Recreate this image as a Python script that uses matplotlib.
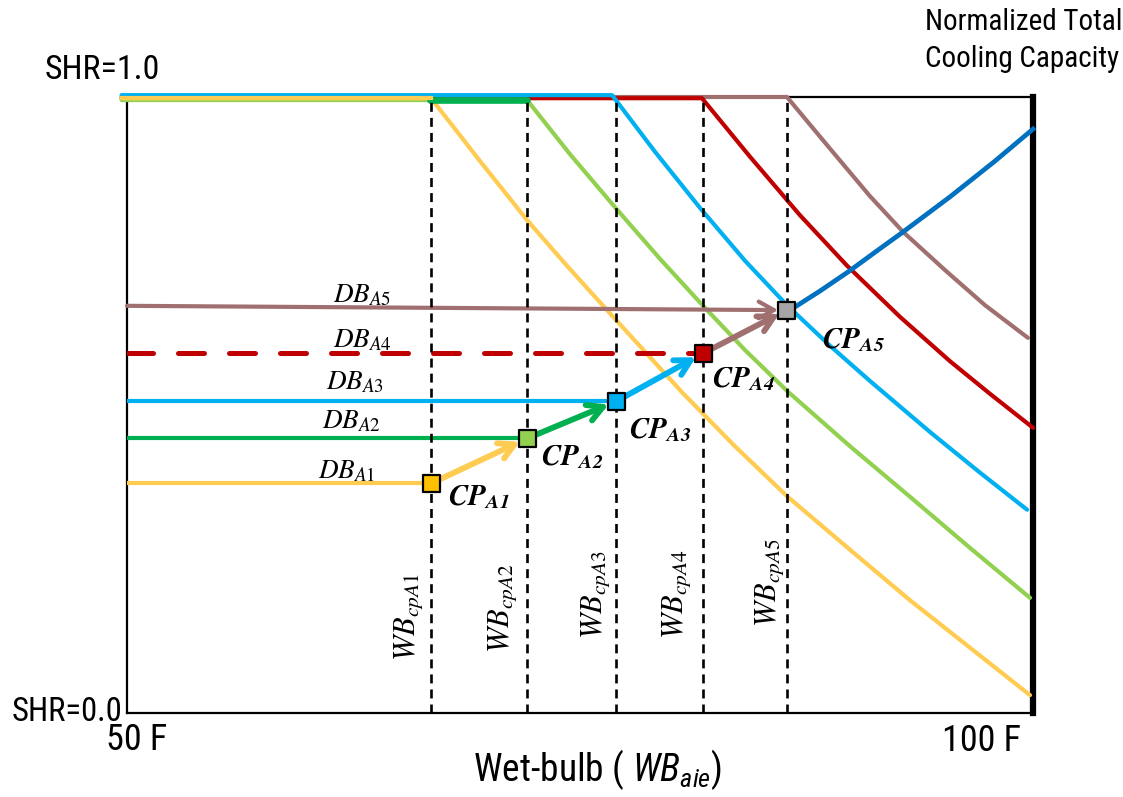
import matplotlib
matplotlib.use("Agg")
import matplotlib.pyplot as plt
import numpy as np

plt.rcParams['font.family'] = ['Roboto Condensed', 'Roboto']
plt.rcParams['mathtext.fontset'] = 'custom'
plt.rcParams['mathtext.rm'] = 'Roboto Condensed'
plt.rcParams['mathtext.it'] = 'Roboto Condensed:italic'

# wet-bulb of each operating point (F) and its capacity level (0..1)
cp_names = ["A1", "A2", "A3", "A4", "A5"]
wb_cp = [66.8, 72.1, 77.0, 81.8, 86.4]
cp_level = [0.373, 0.446, 0.506, 0.584, 0.654]
cp_fill = ["#FFC000", "#92D050", "#00B0F0", "#C00000", "#A6A6A6"]

# capacity curves for each entering dry-bulb, flat at SHR=1 up to the knee
curve_colors = ["#A07070", "#C00000", "#00B0F0", "#92D050", "#FFCB50"]
curve_x = [
    [49.7, 86.42, 88.80, 91.00, 92.83, 95.14, 97.35, 99.72],
    [49.7, 81.73, 84.38, 87.14, 89.74, 92.66, 95.42, 97.63, 100.0],
    [49.7, 76.77, 79.14, 81.62, 84.11, 86.42, 88.80, 91.00, 94.32, 97.08, 99.67],
    [49.7, 72.08, 74.45, 76.93, 79.42, 81.79, 84.11, 86.42, 89.90, 93.21, 96.52, 99.83],
    [49.7, 66.78, 69.48, 72.08, 74.28, 76.49, 80.68, 83.55, 86.42, 89.90, 93.21, 96.52, 99.83],
]
curve_y = [
    [1.0, 1.0, 0.916, 0.839, 0.781, 0.719, 0.662, 0.609],
    [0.998, 0.998, 0.903, 0.808, 0.726, 0.643, 0.571, 0.518, 0.463],
    [1.003, 1.003, 0.911, 0.820, 0.734, 0.662, 0.596, 0.539, 0.456, 0.390, 0.330],
    [0.995, 0.995, 0.907, 0.821, 0.737, 0.661, 0.589, 0.523, 0.433, 0.351, 0.268, 0.187],
    [0.998, 0.998, 0.896, 0.800, 0.726, 0.654, 0.519, 0.433, 0.352, 0.265, 0.183, 0.106, 0.029],
]

# total capacity line through the last operating point
tc_x = [86.59, 88.24, 89.79, 91.28, 92.83, 95.42, 97.90, 100.0]
tc_y = [0.654, 0.685, 0.716, 0.748, 0.781, 0.838, 0.896, 0.948]

db_colors = ["#FFCB50", "#00B050", "#00B0F0", "#C00000", "#A07070"]
arrow_colors = ["#FFCB50", "#00B050", "#00B0F0", "#A07070"]

fig = plt.figure(figsize=(11.23, 7.97), dpi=100)
ax = fig.add_axes([0.1131, 0.1054, 0.8068, 0.7729])
ax.set_xlim(50, 100)
ax.set_ylim(0, 1)
ax.set_xticks([])
ax.set_yticks([])
for side in ["left", "bottom", "top"]:
    ax.spines[side].set_linewidth(1.6)
ax.spines["right"].set_linewidth(4.5)
ax.spines["right"].set_capstyle("projecting")

for cx, cy, col in zip(curve_x, curve_y, curve_colors):
    ax.plot(cx, cy, color=col, lw=3.0, solid_capstyle='round', solid_joinstyle='round',
            clip_on=False, zorder=3)
# thicker green flat segment at the top, yellow flat drawn over the rest
ax.plot([66.7, 72.1], [0.995, 0.995], color="#00B050", lw=4.8, solid_capstyle='round', zorder=3.5, clip_on=False)
ax.plot(curve_x[4][:2], curve_y[4][:2], color="#FFCB50", lw=3.0, zorder=3.6, clip_on=False)

ax.plot(tc_x, tc_y, color="#0070C0", lw=3.4, solid_joinstyle='round', zorder=3.2, clip_on=False)
ax.plot([wb_cp[3], wb_cp[4]], [cp_level[3], cp_level[4]], color="#0070C0", lw=1.2, zorder=3.1)

# vertical wet-bulb markers
for wb in wb_cp:
    ax.plot([wb, wb], [0, 1], color="black", lw=1.9, dashes=(3.4, 2.3), zorder=4)

# dry-bulb lines coming in from the left
for i in range(4):
    if i == 3:
        ax.plot([50, wb_cp[i]], [cp_level[i]] * 2, color=db_colors[i], lw=3.6,
                dashes=(5.2, 5.0), dash_capstyle='round', zorder=3.3)
    else:
        ax.plot([50, wb_cp[i]], [cp_level[i]] * 2, color=db_colors[i], lw=3.0, zorder=3.3)
ax.annotate("", xy=(wb_cp[4], cp_level[4]), xytext=(50, 0.661),
            arrowprops=dict(arrowstyle="->,head_length=0.55,head_width=0.3", color=db_colors[4],
                            lw=3.0, shrinkA=0, shrinkB=6, mutation_scale=20), zorder=3.4)

# arrows stepping between operating points
for i in range(4):
    ax.annotate("", xy=(wb_cp[i + 1], cp_level[i + 1]), xytext=(wb_cp[i], cp_level[i]),
                arrowprops=dict(arrowstyle="->,head_length=0.55,head_width=0.3", color=arrow_colors[i],
                                lw=4.2, shrinkA=5, shrinkB=6, mutation_scale=20), zorder=5)

ax.scatter(wb_cp, cp_level, marker='s', s=150, c=cp_fill, edgecolors='black', linewidths=1.6, zorder=6)

# labels
db_pos = [(60.54, 0.393), (60.76, 0.474), (60.98, 0.537), (61.37, 0.606), (61.37, 0.679)]
for name, (x, y) in zip(cp_names, db_pos):
    ax.text(x, y, r"$DB_{%s}$" % name, math_fontfamily='stix', fontsize=19.5, ha='left', va='center')

cp_pos = [(67.72, 0.351), (72.85, 0.416), (77.70, 0.459), (82.28, 0.542), (88.36, 0.606)]
for name, (x, y) in zip(cp_names, cp_pos):
    ax.text(x, y, r"$\mathbfit{CP}_{\mathbfit{%s}}$" % name, math_fontfamily='stix', fontsize=21,
            ha='left', va='center', zorder=7)

wb_pos = [(65.51, 0.156), (70.70, 0.170), (75.88, 0.192), (80.35, 0.193), (85.43, 0.211)]
for name, (x, y) in zip(cp_names, wb_pos):
    ax.text(x, y, r"$WB_{cp%s}$" % name, math_fontfamily='stix', fontsize=22, rotation=90,
            ha='center', va='center')

fig.text(0.0401, 0.912, "SHR=1.0", fontsize=24.5, ha='left', va='center')
fig.text(0.0107, 0.1066, "SHR=0.0", fontsize=23.5, ha='left', va='center')
fig.text(136.5 / 1123, 0.0715, "50 F", fontsize=26, ha='center', va='center')
fig.text(982 / 1123, 0.0703, "100 F", fontsize=26, ha='center', va='center')
fig.text(0.8237, 0.99, "Normalized Total\nCooling Capacity", fontsize=21, ha='left', va='top',
         linespacing=1.4)
fig.text(0.5325, 0.034, r"Wet-bulb ( $\mathit{WB}_{aie}$)", fontsize=27, ha='center', va='center')

fig.savefig("out.png", dpi=100)
